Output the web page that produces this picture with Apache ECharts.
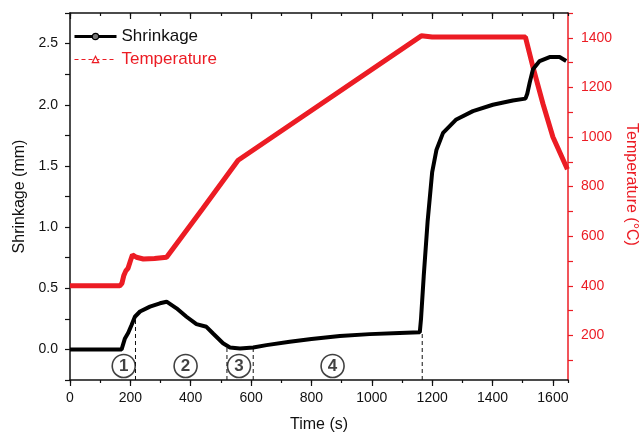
<!DOCTYPE html>
<html>
<head>
<meta charset="utf-8">
<script src="https://cdn.jsdelivr.net/npm/echarts@6/dist/echarts.min.js"></script>
<style>
  html, body { margin: 0; padding: 0; background: #fff; }
  #chart { width: 640px; height: 438px; }
</style>
</head>
<body>
<div id="chart"></div>
<script>
// Sintering shrinkage (mm) versus time (s)
const shrinkTime  = [0, 171, 182, 193, 204, 215, 232, 265, 298, 320, 353, 386, 419, 452, 474, 507, 530, 563, 607, 651, 728, 800, 894, 993, 1092, 1159, 1163, 1172, 1185, 1200, 1214, 1236, 1280, 1335, 1401, 1467, 1509, 1515, 1523, 1534, 1556, 1589, 1622, 1644];
const shrinkValue = [0, 0, 0.09, 0.136, 0.20, 0.267, 0.31, 0.35, 0.377, 0.39, 0.336, 0.267, 0.207, 0.185, 0.13, 0.05, 0.016, 0.008, 0.016, 0.035, 0.062, 0.085, 0.11, 0.125, 0.135, 0.14, 0.25, 0.6, 1.05, 1.45, 1.63, 1.77, 1.88, 1.948, 2.0, 2.035, 2.05, 2.09, 2.18, 2.29, 2.357, 2.39, 2.39, 2.357];

// Furnace temperature (°C) versus time (s)
const tempTime  = [0, 165, 172, 178, 185, 192, 200, 207, 220, 243, 280, 320, 440, 557, 1164, 1200, 1509, 1534, 1567, 1600, 1648];
const tempValue = [400, 400, 410, 440, 460, 470, 500, 525, 515, 508, 510, 515, 712, 906, 1408, 1403, 1403, 1282, 1134, 1000, 870];

// Stage numbers and the dashed boundaries between stages
const stageLabels = ['1', '2', '3', '4'];
const stageTimes = [178, 383, 560, 870];
const stageLevel = -0.135;
const boundaryTimes = [217, 520, 607, 1167];
const boundaryTops = [0.25, 0.02, 0.02, 0.13];

// Axis ranges and tick values
const timeRange = [0, 1650];
const timeMajorTicks = [0, 200, 400, 600, 800, 1000, 1200, 1400, 1600];
const shrinkRange = [-0.25, 2.75];
const tempRange = [20, 1500];
const tempTicks = [100, 200, 300, 400, 500, 600, 700, 800, 900, 1000, 1100, 1200, 1300, 1400, 1500];
const tempLabels = [200, 400, 600, 800, 1000, 1200, 1400];

const RED = '#ec1c24';
const INK = '#111';
const FONT = '"Liberation Sans", Arial, sans-serif';

const zip = (xs, ys) => xs.map((x, i) => [x, ys[i]]);

const baseX = {
  type: 'value', min: timeRange[0], max: timeRange[1], interval: 100,
  splitLine: { show: false }
};

const chart = echarts.init(document.getElementById('chart'), null, { renderer: 'canvas' });

const boundarySeries = boundaryTimes.map((t, i) => ({
  type: 'line',
  silent: true,
  data: [[t, shrinkRange[0]], [t, boundaryTops[i]]],
  showSymbol: false,
  symbol: 'none',
  lineStyle: { color: INK, width: 1, type: [4, 3] },
  z: 1
}));

chart.setOption({
  animation: false,
  backgroundColor: '#fff',
  textStyle: { fontFamily: FONT },
  grid: { left: 70, right: 72, top: 13, bottom: 58, containLabel: false, outerBoundsMode: 'none' },
  legend: {
    orient: 'vertical',
    left: 68, top: 23,
    itemWidth: 42, itemHeight: 8, itemGap: 6,
    textStyle: { fontSize: 17, fontFamily: FONT },
    data: [
      {
        name: 'Shrinkage',
        lineStyle: { color: '#000', width: 3 },
        itemStyle: { color: '#777', borderColor: '#000', borderWidth: 1.2 },
        textStyle: { color: INK }
      },
      {
        name: 'Temperature',
        lineStyle: { color: RED, width: 1.2, type: [4, 3] },
        itemStyle: { color: '#fff', borderColor: RED, borderWidth: 1.2 },
        textStyle: { color: RED }
      }
    ]
  },
  xAxis: [
    Object.assign({}, baseX, {
      position: 'bottom',
      axisLine: { onZero: false, lineStyle: { color: INK, width: 1.5 } },
      axisTick: { length: 3, lineStyle: { color: INK, width: 1.2 } },
      axisLabel: {
        color: INK, fontSize: 14, margin: 11,
        formatter: v => (v % 200 === 0 ? String(v) : '')
      },
      name: 'Time (s)', nameLocation: 'middle', nameGap: 37,
      nameTextStyle: { color: INK, fontSize: 16 }
    }),
    Object.assign({}, baseX, {
      position: 'bottom',
      axisLine: { show: false, onZero: false },
      axisTick: { length: 6, customValues: timeMajorTicks, lineStyle: { color: INK, width: 1.2 } },
      axisLabel: { show: false }
    }),
    Object.assign({}, baseX, {
      position: 'top',
      axisLine: { onZero: false, lineStyle: { color: INK, width: 1.5 } },
      axisTick: { inside: true, length: 3, lineStyle: { color: INK, width: 1.2 } },
      axisLabel: { show: false }
    }),
    Object.assign({}, baseX, {
      position: 'top',
      axisLine: { show: false, onZero: false },
      axisTick: { inside: true, length: 6, customValues: timeMajorTicks, lineStyle: { color: INK, width: 1.2 } },
      axisLabel: { show: false }
    })
  ],
  yAxis: [
    {
      type: 'value', position: 'left',
      min: shrinkRange[0], max: shrinkRange[1], interval: 0.25,
      splitLine: { show: false },
      axisLine: { show: true, onZero: false, lineStyle: { color: INK, width: 1.5 } },
      axisTick: { show: true, length: 5, lineStyle: { color: INK, width: 1.2 } },
      axisLabel: {
        color: INK, fontSize: 14, margin: 12,
        formatter: v => (Math.abs(v * 2 - Math.round(v * 2)) < 1e-6 ? v.toFixed(1) : '')
      },
      name: 'Shrinkage (mm)', nameLocation: 'middle', nameGap: 39,
      nameTextStyle: { color: INK, fontSize: 16 }
    },
    {
      type: 'value', position: 'right',
      min: tempRange[0], max: tempRange[1],
      splitLine: { show: false },
      axisLine: { show: true, onZero: false, lineStyle: { color: RED, width: 1.5 } },
      axisTick: { show: true, length: 5, customValues: tempTicks, lineStyle: { color: RED, width: 1.2 } },
      axisLabel: { color: RED, fontSize: 14, margin: 13, customValues: tempLabels, formatter: v => String(v) },
      name: 'Temperature (°C)', nameLocation: 'middle', nameGap: 55, nameRotate: -90,
      nameTextStyle: { color: RED, fontSize: 16, padding: [0, 24, 0, 0] }
    }
  ],
  series: [
    ...boundarySeries,
    {
      name: 'Temperature',
      type: 'line',
      yAxisIndex: 1,
      data: zip(tempTime, tempValue),
      symbol: 'triangle',
      showSymbol: false,
      lineStyle: { color: RED, width: 5 },
      itemStyle: { color: RED },
      z: 2
    },
    {
      name: 'Shrinkage',
      type: 'line',
      yAxisIndex: 0,
      data: zip(shrinkTime, shrinkValue),
      symbol: 'circle',
      showSymbol: false,
      lineStyle: { color: '#000', width: 4 },
      itemStyle: { color: '#000' },
      z: 3
    },
    {
      type: 'scatter',
      silent: true,
      data: stageTimes.map((t, i) => ({ value: [t, stageLevel], label: { formatter: stageLabels[i] } })),
      symbol: 'circle',
      symbolSize: 23,
      itemStyle: { color: '#fff', borderColor: INK, borderWidth: 1.6 },
      label: { show: true, position: 'inside', color: INK, fontSize: 17, fontWeight: 'bold', fontFamily: FONT },
      z: 4
    }
  ]
});
</script>
</body>
</html>
